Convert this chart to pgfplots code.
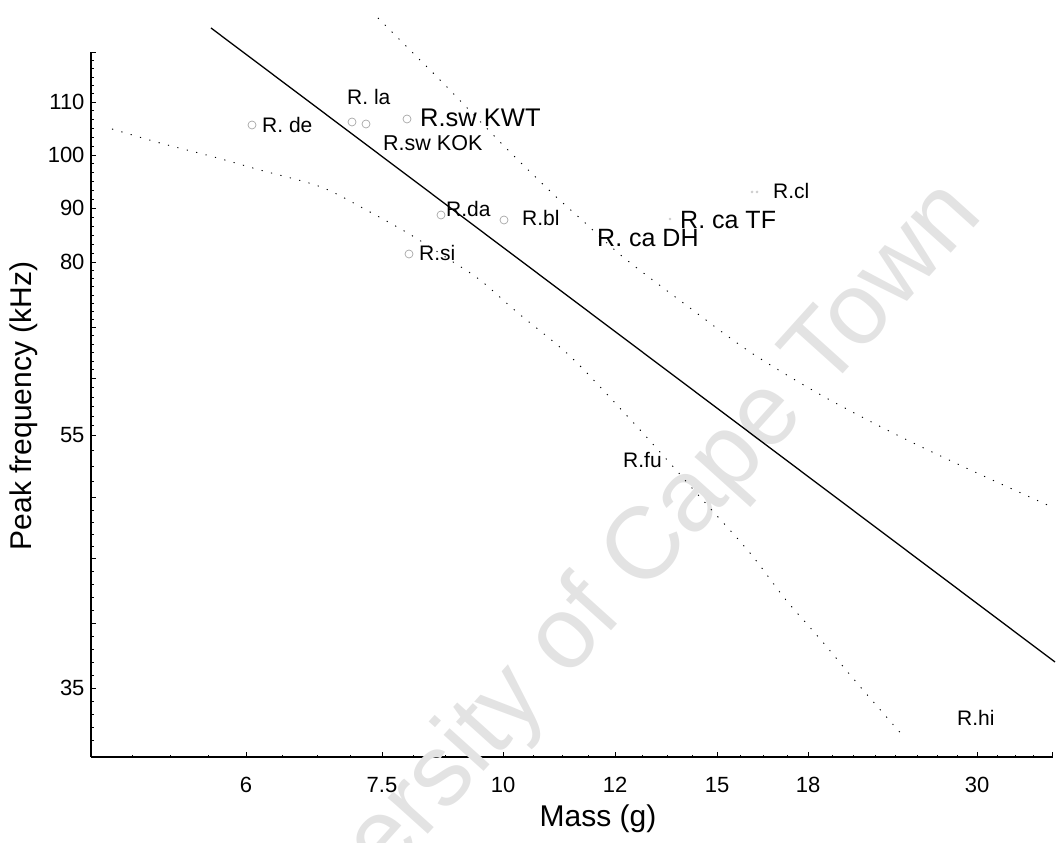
\documentclass[border=0pt]{standalone}
\usepackage{pgfplots}
\pgfplotsset{compat=1.18}
\usepackage{fontspec}
\setmainfont{Liberation Sans}
\newcommand{\fs}[1]{\fontsize{#1bp}{#1bp}\selectfont}
\begin{document}
\begin{tikzpicture}
\useasboundingbox (0,0) rectangle (1062bp,843bp);
\clip (0,0) rectangle (1062bp,843bp);
\begin{axis}[
  at={(91bp,86bp)}, anchor=south west,
  scale only axis, width=962bp, height=705bp,
  xmin=91, xmax=1053, ymin=86, ymax=791,
  axis x line*=bottom, axis y line*=left,
  x axis line style={-}, y axis line style={-},
  clip=false,
  tick align=inside,
  xtick={246,382,503,615,717,808,977},
  xticklabels={6,7.5,10,12,15,18,30},
  minor xtick={132,170,208,282,317,350,413,445,475,533,562,588,642,667,692,740,763,787,832,853,875,895,917,937,957,997,1015,1033},
  ytick={741,688,635,581,408,155},
  yticklabels={110,100,90,80,55,35},
  minor ytick={782.7,774.3,766,757.7,749.3,732.2,723.3,714.5,705.7,696.8,679.2,670.3,661.5,652.7,643.8,626,617,608,599,590,573,565,557,548,540,532,524,507.5,499,490.5,482,473.5,455.5,446,436.5,427,417.5,392.5,377,361.5,333,321,309,297,272,259,246,233,207,194,181,168,142,129,116,103},
  extra y ticks={791,516,465,346,285,220},
  extra y tick labels={},
  extra x ticks={1052},
  extra x tick labels={},
  major tick length=5bp, minor tick length=2.5bp,
  tick style={black, line width=0.8bp},
  axis line style={black, line width=1.2bp},
  ticklabel style={font=\fs{22}},
  xticklabel style={yshift=-17bp},
  yticklabel style={xshift=-3bp},
  /pgf/number format/assume math mode=true,
]
% watermark
\node[rotate=48, text=gray!22, font=\fs{102}] at (axis cs:597,236) {University of Cape Town};

% regression line
\addplot[black, line width=1.3bp] coordinates {(211,815) (1055,181)};
% upper confidence band
\addplot[black, line width=0.9bp, dash pattern=on 1.2bp off 8.5bp, smooth] coordinates {
(378,825) (410,793) (443,760) (503,698) (552,650) (582,623) (623,586) (686,538) (750,491) (821,448) (893,410) (964,376) (1054,335)};
% lower confidence band
\addplot[black, line width=0.9bp, dash pattern=on 1.2bp off 8.5bp, smooth] coordinates {
(112,714) (160,700) (214,686) (260,673) (321,656) (370,631) (411,608) (450,583) (480,563) (518,530) (571,486) (629,425) (660,391) (700,346) (750,290) (786,243) (821,203) (857,160) (904,106)};
% species points
\addplot[only marks, mark=o, mark size=4bp, gray!70, mark options={line width=0.7bp}] coordinates {
(252,718) (352,721) (366,719) (407,724) (441,628) (504,623) (409,589)};
\addplot[only marks, mark=*, mark size=1.2bp, gray!40] coordinates {(752,651) (757,651) (670,624)};

% labels
\node[anchor=west, inner sep=0, font=\fs{21}] at (axis cs:262,718) {R. de};
\node[anchor=west, inner sep=0, font=\fs{21}] at (axis cs:347,746) {R. la};
\node[anchor=west, inner sep=0, font=\fs{25.5}] at (axis cs:420,725) {R.sw KWT};
\node[anchor=west, inner sep=0, font=\fs{21.5}] at (axis cs:383,700) {R.sw KOK};
\node[anchor=west, inner sep=0, font=\fs{21}] at (axis cs:446,634) {R.da};
\node[anchor=west, inner sep=0, font=\fs{21}] at (axis cs:522,625) {R.bl};
\node[anchor=west, inner sep=0, font=\fs{21}] at (axis cs:419,590) {R.si};
\node[anchor=west, inner sep=0, font=\fs{21}] at (axis cs:773,652) {R.cl};
\node[anchor=west, inner sep=0, font=\fs{25}] at (axis cs:680,623) {R. ca TF};
\node[anchor=west, inner sep=0, font=\fs{25}] at (axis cs:597,605) {R. ca DH};
\node[anchor=west, inner sep=0, font=\fs{21}] at (axis cs:623,383) {R.fu};
\node[anchor=west, inner sep=0, font=\fs{21}] at (axis cs:957,125) {R.hi};

% axis titles
\node[font=\fs{30}] at (axis cs:598,24) {Mass (g)};
\node[rotate=90, font=\fs{30}] at (axis cs:24,437) {Peak frequency (kHz)};
\end{axis}
\end{tikzpicture}
\end{document}
